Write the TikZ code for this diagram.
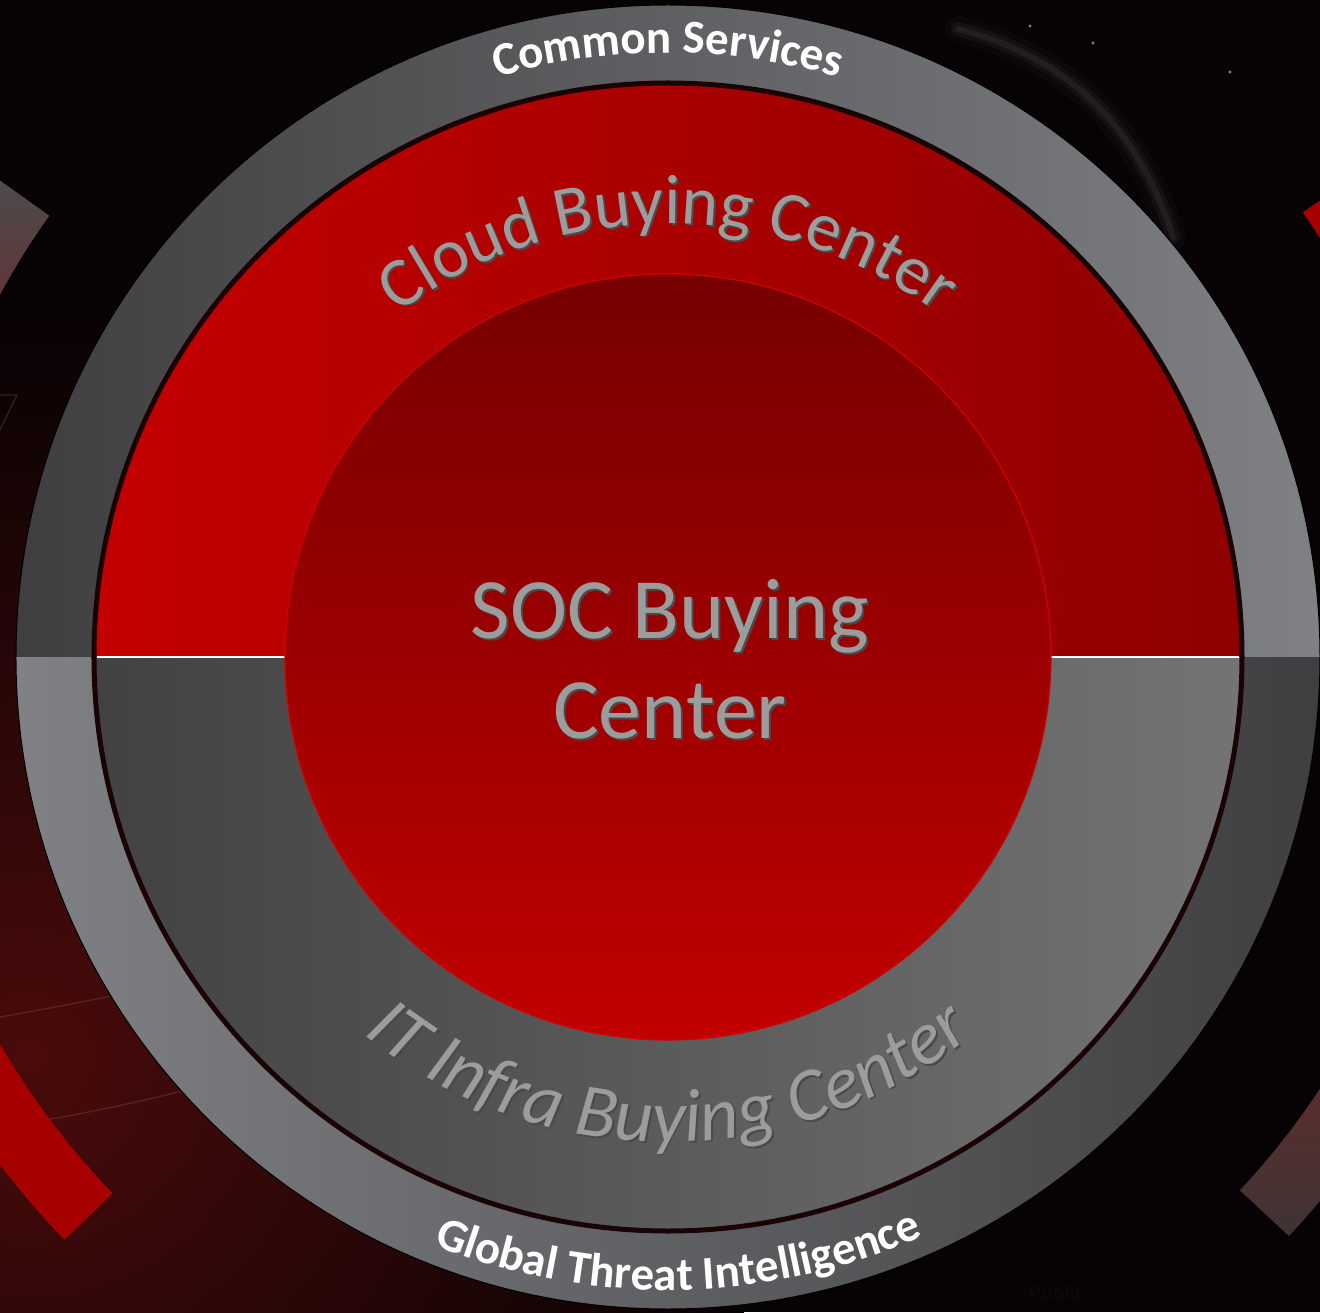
\documentclass[tikz,border=0pt]{standalone}
\usepackage{fontspec}
\setmainfont{Carlito}
\usetikzlibrary{decorations.text}
\definecolor{bg}{HTML}{070203}
\definecolor{bgglow}{HTML}{4a0b0b}
\definecolor{bandred}{HTML}{a60000}
\definecolor{bandgrayA}{HTML}{4d4a4b}
\definecolor{bandgrayB}{HTML}{6a2e30}
\definecolor{bandbrA}{HTML}{6e2828}
\definecolor{bandbrB}{HTML}{3e3434}
\definecolor{ringdark}{HTML}{3f3f41}
\definecolor{ringlight}{HTML}{808185}
\definecolor{redL}{HTML}{c40000}
\definecolor{redR}{HTML}{8f0000}
\definecolor{grayL}{HTML}{424242}
\definecolor{grayR}{HTML}{747474}
\definecolor{socTop}{HTML}{760000}
\definecolor{socBot}{HTML}{c20000}
\definecolor{socEdge}{HTML}{d40000}
\definecolor{diskEdge}{HTML}{1a0304}
\definecolor{txtgray}{HTML}{9c9c9c}
\definecolor{txtshadow}{HTML}{4a4a4a}
\definecolor{faintline}{HTML}{8a5a5a}
\definecolor{publictxt}{HTML}{110505}
\tikzset{
  soclabel/.style={anchor=base, font=\fontsize{86}{86}\selectfont},
  faint/.style={draw=faintline, line width=1.2, opacity=0.35},
}
\begin{document}
\begin{tikzpicture}[x=1pt,y=1pt]
\useasboundingbox (-668,-655) rectangle (652,657);
\begin{scope}
\clip (-668,-655) rectangle (652,657);
% background
\fill[bg] (-668,-655) rectangle (652,657);
\shade[inner color=bgglow, outer color=bg] (-640,-400) circle (760);
% faint background lines
\draw[faint] (-668,-360) .. controls (-610,-350) and (-560,-340) .. (-515,-330);
\draw[faint] (-668,-470) .. controls (-560,-455) and (-470,-430) .. (-390,-410);
\draw[faint] (-668,262) -- (-651,262) -- (-668,227);
% soft glow near top right
\foreach \w/\o in {26/0.025, 14/0.04, 6/0.06}
  \draw[white, line width=\w, opacity=\o, line cap=round] (290,628) .. controls (400,600) and (470,530) .. (505,420);
\fill[gray] (362,631) circle (1.6);
\fill[gray] (425,614) circle (1.6);
\fill[gray] (562,585) circle (1.6);
% decorative bands
\fill[bandred] (224:772) arc[start angle=224, end angle=195, radius=772] -- (195:839) arc[start angle=195, end angle=224, radius=839] -- cycle;
\shade[top color=bandgrayA, bottom color=bandgrayB] (144.5:760) arc[start angle=144.5, end angle=156, radius=760] -- (156:821) arc[start angle=156, end angle=144.5, radius=821] -- cycle;
\fill[bandred] (35:775) arc[start angle=35, end angle=28, radius=775] -- (28:840) arc[start angle=28, end angle=35, radius=840] -- cycle;
\shade[top color=bandbrA, bottom color=bandbrB] (-43:782) arc[start angle=-43, end angle=-25, radius=782] -- (-25:849) arc[start angle=-25, end angle=-43, radius=849] -- cycle;
\node[publictxt, font=\fontsize{22}{22}\selectfont\bfseries] (public) at (389,-636) {Public};
\end{scope}
% outer ring
\shade[left color=ringdark, right color=ringlight] (652,0) arc[start angle=0, end angle=180, radius=652] -- cycle;
\shade[left color=ringlight, right color=ringdark] (-652,0) arc[start angle=180, end angle=360, radius=652] -- cycle;
\draw[black, line width=1] (0,0) circle (652);
% inner disk
\shade[left color=redL, right color=redR] (574,0) arc[start angle=0, end angle=180, radius=574] -- cycle;
\shade[left color=grayL, right color=grayR] (-574,0) arc[start angle=180, end angle=360, radius=574] -- cycle;
\draw[diskEdge, line width=5] (0,0) circle (574);
\draw[white, line width=2.5] (-571,0) -- (-383,0);
\draw[white, line width=2.5] (383,0) -- (571,0);
% SOC circle
\shade[top color=socTop, bottom color=socBot] (0,0) circle (383);
\draw[socEdge, line width=1.2] (0,0) circle (383);
% ring texts
\path[decorate, decoration={text along path, text align=center, text color=white,
  text={|\fontsize{47}{47}\selectfont\bfseries|Common Services}}]
  (170:604) arc[start angle=170, end angle=10, radius=604];
\path[decorate, decoration={text along path, text align=center, text color=white,
  text={|\fontsize{47}{47}\selectfont\bfseries|Global Threat Intelligence}}]
  (191:633) arc[start angle=191, end angle=351, radius=633];
% cloud text
\foreach \dx/\dy/\col in {1.8/-1.8/txtshadow, 0/0/txtgray}{
\begin{scope}[shift={(\dx,\dy-20)}]
\path[decorate, decoration={text along path, text align=center, text color=\col,
  text={|\fontsize{70}{70}\selectfont|Cloud Buying Center}}]
  (180:453) arc[start angle=180, end angle=0, radius=453];
\end{scope}}
% IT infra text
\foreach \dx/\dy/\col in {1.8/-1.8/txtshadow, 0/0/txtgray}{
\begin{scope}[shift={(\dx,\dy)}]
\path[decorate, decoration={text along path, text align=center, text color=\col,
  text={|\fontsize{75}{75}\selectfont\itshape|IT Infra Buying Center}}]
  (180:485) arc[start angle=180, end angle=360, radius=485];
\end{scope}}
% SOC text
\node[soclabel, text=txtshadow] (soc1s) at (4,17) {SOC Buying};
\node[soclabel, text=txtgray] (soc1) at (2,19) {SOC Buying};
\node[soclabel, text=txtshadow] (soc2s) at (4,-83) {Center};
\node[soclabel, text=txtgray] (soc2) at (2,-81) {Center};
\end{tikzpicture}
\end{document}
